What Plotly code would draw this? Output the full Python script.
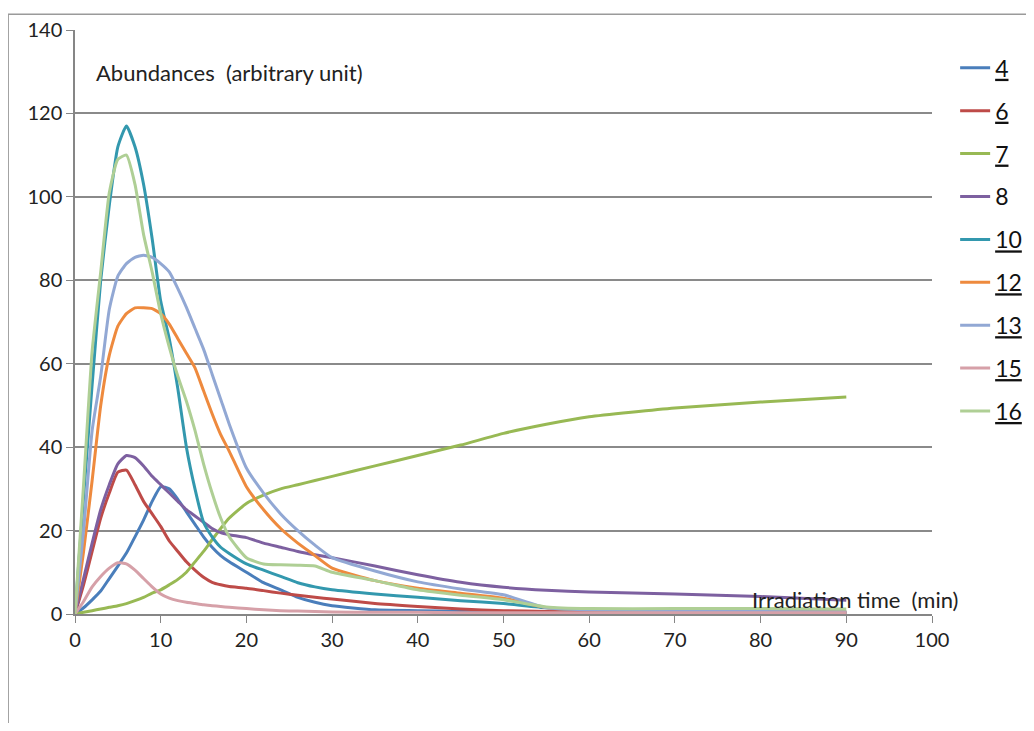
import plotly.graph_objects as go

# irradiation time (min)
time = [0, 1, 2, 3, 4, 5, 6, 7, 8, 9, 10, 11, 12, 13, 14, 15, 16, 17, 18,
        20, 22, 24, 26, 28, 30, 35, 40, 45, 50, 55, 60, 70, 80, 90]

s4 = [0, 1.5, 3.4, 5.5, 8.5, 11.5, 14.6, 18.5, 22.5, 27, 30.5, 30, 27.5, 24.5, 21.5, 18.5, 16, 14, 12.5,
      10, 7.5, 5.8, 4, 2.8, 2, 1, 0.8, 0.6, 0.5, 0.4, 0.3, 0.3, 0.2, 0.2]
s6 = [0, 7, 15, 23, 29, 34, 34.5, 31, 27, 24, 21, 17.5, 15, 12.5, 10.5, 8.8, 7.6, 7, 6.6,
      6.2, 5.6, 5, 4.5, 4, 3.6, 2.5, 1.8, 1.2, 0.8, 0.6, 0.5, 0.4, 0.3, 0.3]
s7 = [0, 0.4, 0.8, 1.2, 1.6, 2, 2.5, 3.2, 4, 5, 5.8, 7, 8.3, 10, 12.5, 15, 17.8, 20.5, 23,
      26.5, 28.5, 30, 31, 32, 33, 35.5, 38, 40.5, 43.3, 45.5, 47.3, 49.4, 50.8, 52]
s8 = [0, 8.5, 17, 25, 31, 36, 38, 37.5, 35.5, 33, 31, 29, 27, 25, 23.5, 22, 20.5, 19.5, 19,
      18.3, 17, 16, 15, 14.2, 13.5, 11.5, 9.4, 7.6, 6.4, 5.7, 5.3, 4.8, 4.2, 3.3]
s10 = [0, 28, 55, 80, 98, 112, 117, 112, 103, 90, 75, 66, 54, 40, 30, 22, 18.5, 16, 14.5,
       12, 10.5, 9, 7.5, 6.5, 5.8, 4.8, 4, 3.2, 2.5, 1.5, 1, 0.8, 0.6, 0.5]
s12 = [0, 15, 32, 50, 62, 69, 72, 73.4, 73.4, 73.2, 72, 69.5, 66, 62.5, 59, 53.5, 48, 43, 39,
       30.5, 25, 20.5, 17, 14, 11, 8, 6.2, 5, 3.8, 1.5, 1, 0.8, 0.6, 0.5]
s13 = [0, 20, 44, 57, 73, 81, 84, 85.5, 86, 85.5, 84, 82, 78, 73.5, 68.5, 63.5, 57.5, 51.5, 45.5,
       35, 29, 24, 20, 16.5, 13.5, 10.3, 7.7, 6, 4.6, 1.5, 1, 0.8, 0.6, 0.5]
s15 = [0, 3, 6.5, 9, 11, 12.3, 12, 10.5, 8.5, 6.5, 4.8, 3.8, 3.2, 2.8, 2.5, 2.2, 2, 1.8, 1.6,
       1.3, 1, 0.8, 0.7, 0.6, 0.5, 0.4, 0.4, 0.3, 0.3, 0.3, 0.3, 0.3, 0.3, 0.3]
s16 = [0, 31, 63, 82, 101, 109, 110, 103, 91, 82, 72, 64, 57, 51, 44, 36, 29, 23, 18.5,
       13.5, 12, 11.8, 11.7, 11.5, 10, 8, 5.8, 4.5, 3.4, 1.7, 1.3, 1.3, 1.3, 1.2]

names = ["<u>4</u>", "<u>6</u>", "<u>7</u>", "8", "<u>10</u>", "<u>12</u>", "<u>13</u>", "<u>15</u>", "<u>16</u>"]
series = [s4, s6, s7, s8, s10, s12, s13, s15, s16]
colors = ["#4A7EBB", "#BE4B48", "#98B954", "#7D60A0", "#3398AE",
          "#EE8A3E", "#92A8D4", "#D6A0A8", "#AFCF95"]

fig = go.Figure()
for i, (nm, ys, c) in enumerate(zip(names, series, colors)):
    fig.add_trace(go.Scatter(x=time, y=ys, mode="lines", name=nm, legendgroup=str(i),
                             line=dict(color=c, width=3, shape="spline", smoothing=0.5)))

# page body adds an 8px margin on each side, so the figure is smaller than the window
fig.update_layout(
    width=1018, height=715,
    margin=dict(l=67, r=94, t=22, b=109, autoexpand=False),
    plot_bgcolor="white", paper_bgcolor="white",
    font=dict(family="Lato, Liberation Sans, sans-serif", color="#222"),
    showlegend=True,
    legend=dict(x=1.027, y=0.972, xanchor="left", yanchor="top",
                font=dict(size=23, color="#111"), tracegroupgap=10,
                bgcolor="rgba(0,0,0,0)"),
)

fig.update_xaxes(range=[0, 100], dtick=10, showgrid=False, zeroline=False,
                 showline=True, linecolor="#868686", linewidth=1.5,
                 ticks="outside", ticklen=7, tickcolor="#868686",
                 tickfont=dict(size=20, color="#222"))
fig.update_yaxes(range=[0, 140], dtick=20, showgrid=True, gridcolor="#8a8a8a", gridwidth=1.5,
                 zeroline=False, showline=True, linecolor="#868686", linewidth=1.5,
                 ticks="outside", ticklen=7, tickcolor="#868686",
                 tickfont=dict(size=20, color="#222"))

fig.add_annotation(text="Abundances  (arbitrary unit)", xref="paper", yref="paper",
                   x=0.022, y=0.928, xanchor="left", yanchor="middle", showarrow=False,
                   font=dict(size=22, color="#222"))
fig.add_annotation(text="Irradiation time  (min)", xref="paper", yref="paper",
                   x=1.033, y=0.024, xanchor="right", yanchor="middle", showarrow=False,
                   font=dict(size=22, color="#222"))

# outer frame of the original chart
fig.add_shape(type="path", xref="paper", yref="paper",
              path="M -0.078 -0.3 L -0.078 1.027 L 1.2 1.027",
              line=dict(color="#9a9a9a", width=1.5))

fig.write_html("out.html")
